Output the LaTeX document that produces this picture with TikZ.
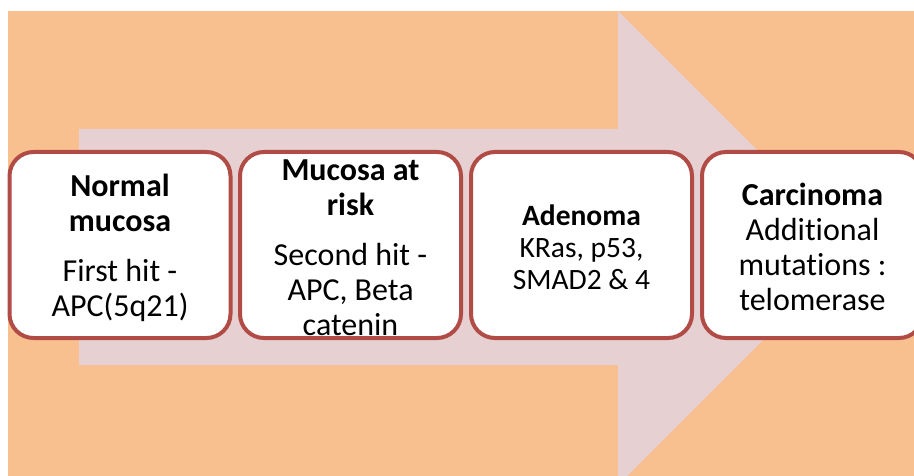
\documentclass[tikz,border=0pt]{standalone}
\usepackage{fontspec}
\setmainfont{Carlito}[Ligatures=NoCommon]
\definecolor{bgorange}{HTML}{F8C08F}
\definecolor{arrowpink}{HTML}{E7D0D1}
\definecolor{boxred}{HTML}{B14B46}

\begin{document}
\begin{tikzpicture}[x=1pt,y=-1pt,
  stagebox/.style={draw=boxred, line width=4pt, fill=white, rounded corners=24pt,
    minimum width=221pt, minimum height=186pt, inner sep=0pt},
  stagetext/.style={inner sep=0pt, align=center,
    font=\fontsize{32}{35}\selectfont},
  smalltext/.style={font=\fontsize{29.5}{32}\selectfont}]
\useasboundingbox (0,0) rectangle (914,476);
\clip (0,0) rectangle (914,476);
% backdrop panel
\fill[bgorange] (8,11) rectangle (914,476);
% large block arrow behind the stages
\begin{scope}
  \clip (8,11) rectangle (914,476);
  \fill[arrowpink] (79,129) -- (618,129) -- (618,11) -- (855,248)
    -- (618,485) -- (618,365) -- (79,365) -- cycle;
\end{scope}
% stage boxes
\node[stagebox] (normal)    at (120,245)   {};
\node[stagebox] (risk)      at (350.5,245) {};
\node[stagebox] (adenoma)   at (581.5,245) {};
\node[stagebox] (carcinoma) at (812.5,245) {};
% stage captions
\node[stagetext] (normal-text) at ([yshift=-3pt]normal.center)
  {\textbf{Normal}\\\textbf{mucosa}\\[15pt]First hit -\\APC(5q21)};
\node[stagetext] (risk-text) at ([yshift=-3pt]risk.center)
  {\textbf{Mucosa at}\\\textbf{risk}\\[15pt]Second hit -\\APC, Beta\\catenin};
\node[stagetext, smalltext] (adenoma-text) at ([yshift=-2.5pt]adenoma.center)
  {\textbf{Adenoma}\\KRas, p53,\\SMAD2 \& 4};
\node[stagetext] (carcinoma-text) at ([yshift=-2pt]carcinoma.center)
  {\textbf{Carcinoma}\\Additional\\mutations :\\telomerase};
\end{tikzpicture}
\end{document}
